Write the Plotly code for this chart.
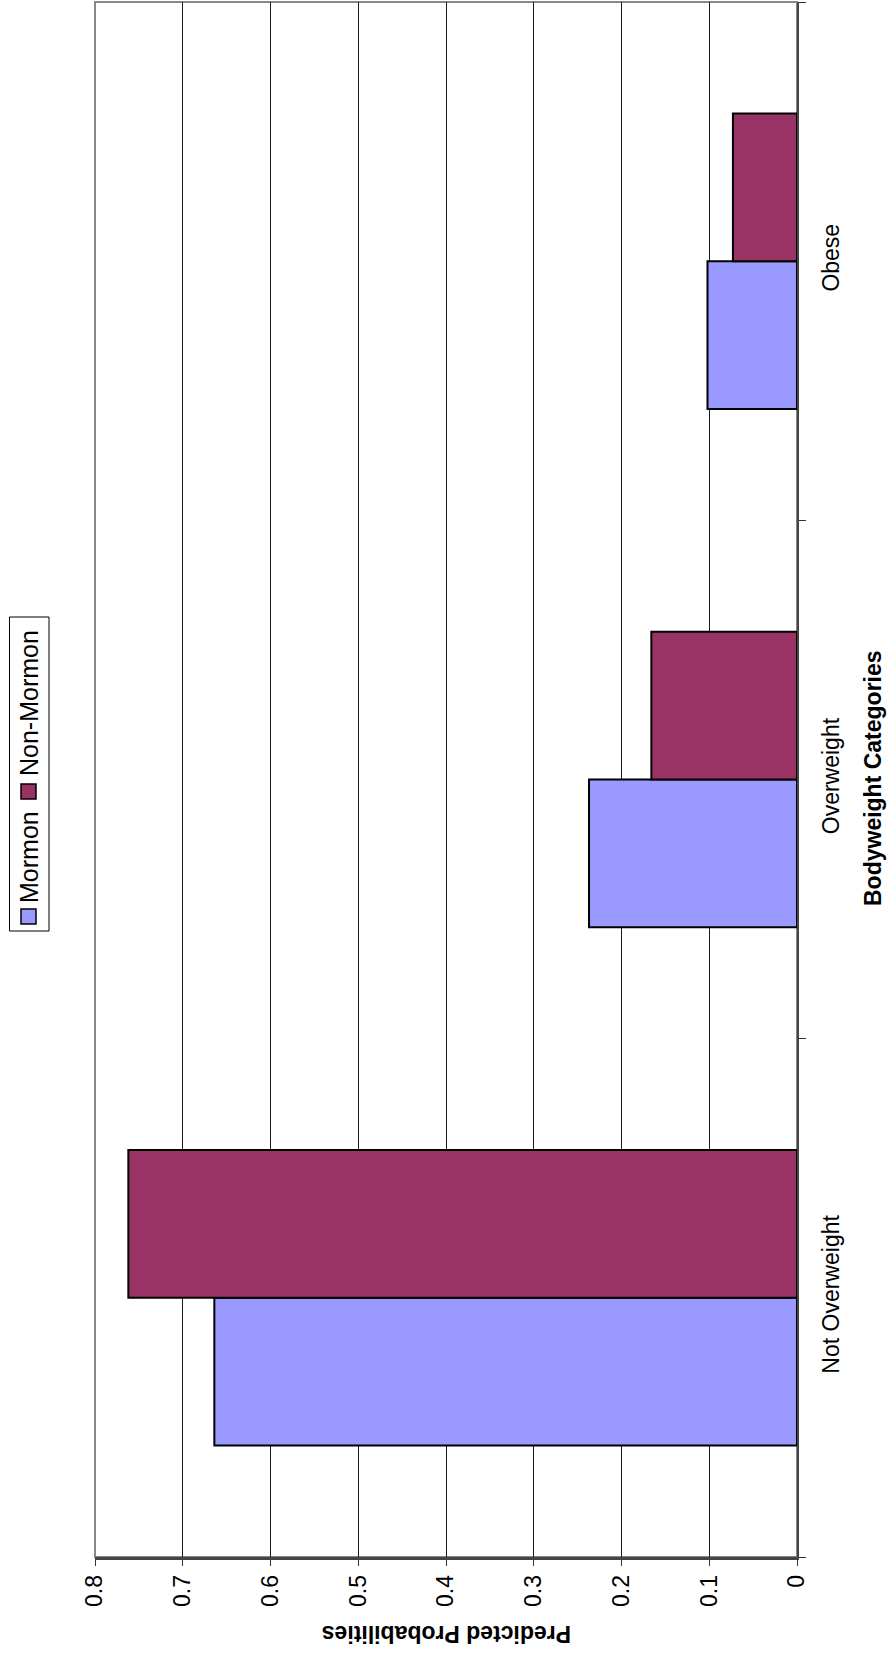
import plotly.graph_objects as go

categories = ["Not Overweight", "Overweight", "Obese"]
mormon = [0.664, 0.237, 0.102]
non_mormon = [0.762, 0.166, 0.073]
series_names = ["Mormon", "Non-Mormon"]
colors = ["#9999FF", "#993366"]
value_ticks = [0, 0.1, 0.2, 0.3, 0.4, 0.5, 0.6, 0.7, 0.8]

W, H = 887, 1653
L, R, T, B = 95, 797, 2, 1557
FONT = "Liberation Sans, Arial, sans-serif"

def px(x):
    return (x - L) / (R - L)

def py(y):
    return (B - y) / (B - T)

fig = go.Figure()
for name, vals, col in zip(series_names, [mormon, non_mormon], colors):
    fig.add_trace(go.Bar(
        y=categories, x=vals, name=name, orientation="h",
        marker=dict(color=col, line=dict(color="black", width=2)),
        showlegend=False,
    ))

fig.update_layout(
    width=W, height=H,
    margin=dict(l=L, r=W - R, t=T, b=H - B, pad=0),
    paper_bgcolor="white", plot_bgcolor="white",
    barmode="group", bargap=0.43, bargroupgap=0,
    font=dict(family=FONT, size=23, color="black"),
    xaxis=dict(
        range=[0.8, 0], tickvals=value_ticks,
        ticktext=[("%g" % v) for v in value_ticks],
        tickangle=-90, showgrid=True, gridcolor="#1a1a1a", gridwidth=1,
        ticks="outside", ticklen=6, tickcolor="#333", tickwidth=1,
        showline=True, linecolor="#444", linewidth=2.5, zeroline=False,
        tickfont=dict(size=23),
    ),
    yaxis=dict(
        side="right", categoryorder="array", categoryarray=categories,
        tickangle=-90, showgrid=False, ticks="outside", ticklen=7,
        tickson="boundaries", tickcolor="#333", tickwidth=1,
        showline=True, linecolor="#444", linewidth=2, zeroline=False,
        tickfont=dict(size=23), ticklabelstandoff=12,
    ),
)

shapes = [
    dict(type="rect", xref="paper", yref="paper", x0=0, x1=1, y0=0, y1=1,
         line=dict(color="#888", width=2), layer="below"),
    dict(type="rect", xref="paper", yref="paper",
         x0=px(9.5), x1=px(49), y0=py(931), y1=py(617),
         line=dict(color="black", width=1), fillcolor="white"),
    dict(type="rect", xref="paper", yref="paper",
         x0=px(21), x1=px(36), y0=py(924), y1=py(909),
         line=dict(color="black", width=1.5), fillcolor=colors[0]),
    dict(type="rect", xref="paper", yref="paper",
         x0=px(21), x1=px(36), y0=py(799), y1=py(784),
         line=dict(color="black", width=1.5), fillcolor=colors[1]),
]
fig.update_layout(shapes=shapes)

annotations = [
    dict(text=series_names[0], x=px(29), y=py(857), xref="paper", yref="paper",
         textangle=-90, showarrow=False, xanchor="center", yanchor="middle",
         font=dict(size=25)),
    dict(text=series_names[1], x=px(29), y=py(703), xref="paper", yref="paper",
         textangle=-90, showarrow=False, xanchor="center", yanchor="middle",
         font=dict(size=25)),
    dict(text="<b>Predicted Probabilities</b>", x=px(447), y=py(1634),
         xref="paper", yref="paper", textangle=180, showarrow=False,
         xanchor="center", yanchor="middle", font=dict(size=23)),
    dict(text="<b>Bodyweight Categories</b>", x=px(873), y=py(778),
         xref="paper", yref="paper", textangle=-90, showarrow=False,
         xanchor="center", yanchor="middle", font=dict(size=23)),
]
fig.update_layout(annotations=annotations)

fig.write_html("out.html")
